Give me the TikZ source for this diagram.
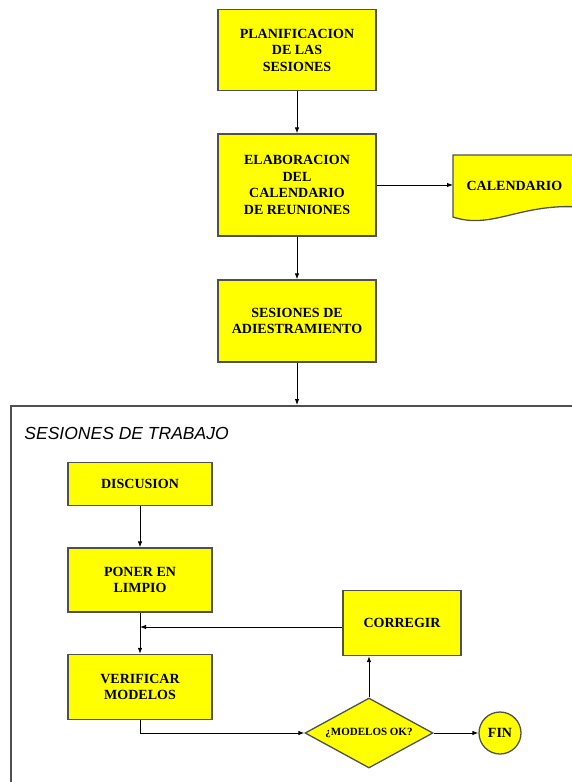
\documentclass[tikz,border=0pt]{standalone}
\usepackage{fontspec}
\setmainfont{Liberation Serif}
\setsansfont{Liberation Sans}
\usetikzlibrary{shapes.geometric,arrows.meta}

\definecolor{boxfill}{RGB}{255,255,0}
\definecolor{boxline}{RGB}{80,80,80}

\tikzstyle{process}=[rectangle,
                                    line width=1.3pt,
                                    inner sep=0pt,
                                    align=center,
                                    draw=boxline,
                                    fill=boxfill,
                                    font=\bfseries\fontsize{14}{16.5}\selectfont]
\tikzstyle{decision}=[diamond,
                                    aspect=1.83,
                                    line width=1.3pt,
                                    inner sep=0pt,
                                    minimum width=128pt,
                                    minimum height=70pt,
                                    draw=boxline,
                                    fill=boxfill,
                                    font=\bfseries\fontsize{11}{13}\selectfont]
\tikzstyle{terminal}=[circle,
                                    line width=1.3pt,
                                    inner sep=0pt,
                                    minimum size=42pt,
                                    draw=boxline,
                                    fill=boxfill,
                                    font=\bfseries\fontsize{14}{16}\selectfont]
\tikzstyle{document}=[rectangle,
                                    inner sep=0pt,
                                    minimum width=122pt,
                                    minimum height=62pt,
                                    font=\bfseries\fontsize{14}{16}\selectfont]
\tikzstyle{frame}=[rectangle,
                                    line width=1.5pt,
                                    draw=boxline,
                                    minimum width=600pt,
                                    minimum height=420pt]

\begin{document}
\begin{tikzpicture}[>={Latex[length=6pt,width=4.5pt]},x=1pt,y=-1pt,line width=0.9pt]
  % picture size and clipping: the frame and the document run off the page
  \useasboundingbox (0,0) rectangle (572,782);
  \clip (0,0) rectangle (572,782);

  % Preparation steps
  \node (plan) [process, minimum width=158pt, minimum height=81pt] at (297,50)
    {PLANIFICACION\\DE LAS\\SESIONES};
  \node (elab) [process, minimum width=158pt, minimum height=102pt] at (297,185)
    {ELABORACION\\DEL\\CALENDARIO\\DE REUNIONES};
  \node (adies) [process, minimum width=158pt, minimum height=82pt] at (297,321)
    {SESIONES DE\\ADIESTRAMIENTO};

  % Output document with a wavy bottom edge
  \path[fill=boxfill, draw=boxline, line width=1.3pt]
    (580,155) -- (453,155) -- (453,217)
    .. controls (492,230) and (520,203) .. (580,207) -- cycle;
  \node (cal) [document, anchor=west] at (453,186) {CALENDARIO};

  % Working sessions frame
  \node (trabajo) [frame, anchor=north west] at (10,405) {};
  \node (titulo) [anchor=west, inner sep=0pt,
    font=\sffamily\itshape\fontsize{17.5}{20}\selectfont] at (24,433)
    {SESIONES DE TRABAJO};

  % Steps inside the frame
  \node (disc) [process, minimum width=144pt, minimum height=43pt] at (140,484)
    {DISCUSION};
  \node (poner) [process, minimum width=144pt, minimum height=64pt] at (140,580)
    {PONER EN\\LIMPIO};
  \node (verif) [process, minimum width=144pt, minimum height=65pt] at (140,687)
    {VERIFICAR\\MODELOS};
  \node (corr) [process, minimum width=118pt, minimum height=65pt] at (402,623)
    {CORREGIR};
  \node (ok) [decision] at (369,733) {¿MODELOS OK?};
  \node (fin) [terminal] at (500,733) {FIN};

  % The diagram elements are now connected through arrows:
  \path[->]
    (plan) edge (elab)
    (elab) edge (adies)
    (disc) edge (poner)
    (poner) edge (verif)
    (ok) edge (fin)
    ;
  \draw[->] (elab.east) -- (elab.east -| cal.west);
  \draw[->] (adies.south) -- (adies.south |- trabajo.north);
  \draw[->] (verif.south) |- (ok.west);
  \draw[->] (ok.north) -- (ok.north |- corr.south);
  \draw[->] ([yshift=-4pt]corr.west) -- ([yshift=-4pt]corr.west -| poner.south);
\end{tikzpicture}
\end{document}
